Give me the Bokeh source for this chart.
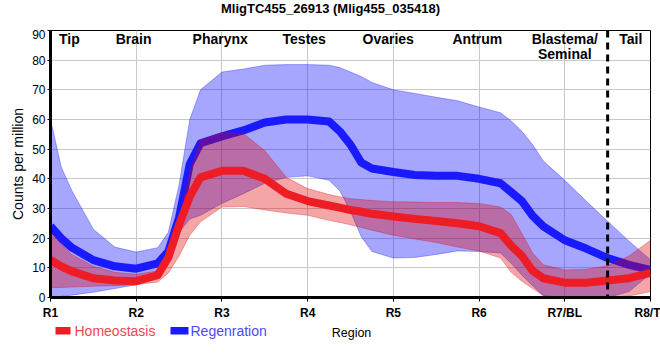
from bokeh.plotting import figure
from bokeh.layouts import column
from bokeh.models import Range1d, FixedTicker, Span
from bokeh.core.properties import value
from bokeh.embed import file_html
from bokeh.resources import INLINE

title_text = "MligTC455_26913 (Mlig455_035418)"

# position along the body (region units, R1 = 1 ... R8/T = 8)
pos = [1.0, 1.125, 1.25, 1.5, 1.75, 2.0, 2.25, 2.375, 2.5, 2.625, 2.75, 3.0, 3.25, 3.5, 3.75,
       4.0, 4.25, 4.375, 4.5, 4.625, 4.75, 5.0, 5.25, 5.5, 5.75, 6.0, 6.25, 6.375, 6.5, 6.625,
       6.75, 7.0, 7.25, 7.5, 7.75, 8.0]

homeo_mean = [12.7, 10.5, 8.8, 6.5, 5.7, 5.5, 7.5, 13.5, 24.5, 34.0, 40.5, 42.7, 42.7, 40.0, 35.0,
              32.5, 31.0, 30.3, 29.5, 28.9, 28.2, 27.3, 26.5, 25.8, 25.0, 24.0, 21.7, 17.5, 14.0, 9.0,
              6.5, 5.0, 5.0, 5.7, 6.5, 8.3]
homeo_upper = [22.0, 18.0, 14.5, 10.5, 8.5, 7.8, 9.0, 14.0, 26.0, 42.0, 53.0, 55.5, 55.3, 49.5, 40.5,
               36.7, 34.7, 34.0, 33.3, 33.0, 32.7, 32.3, 32.2, 32.0, 32.0, 31.7, 30.5, 28.0, 21.5, 15.0,
               11.0, 9.3, 9.5, 10.7, 14.0, 19.3]
homeo_lower = [3.3, 3.4, 3.5, 3.8, 4.0, 4.3, 5.2, 8.3, 14.0, 21.0, 25.5, 30.5, 30.7, 29.5, 28.5,
               27.7, 26.0, 25.3, 24.5, 23.6, 22.7, 21.0, 19.7, 18.5, 17.0, 15.7, 13.3, 8.5, 5.5, 3.0,
               0.7, 0.0, 0.0, 0.0, 0.5, 2.0]

regen_mean = [24.0, 20.0, 16.8, 12.6, 10.5, 9.7, 11.5, 15.5, 27.0, 45.0, 52.0, 54.3, 56.3, 59.0, 60.0,
              60.0, 59.3, 56.0, 51.5, 45.5, 43.5, 42.3, 41.3, 41.0, 41.0, 40.0, 38.5, 35.5, 32.5, 27.5,
              24.0, 19.3, 16.5, 13.3, 11.0, 9.3]
regen_upper = [60.0, 44.0, 36.0, 23.0, 17.0, 15.3, 16.8, 22.0, 38.0, 60.0, 70.0, 76.0, 77.0, 78.3, 78.5,
               78.5, 78.3, 77.5, 76.0, 74.5, 72.5, 70.0, 68.8, 67.5, 66.3, 64.2, 62.3, 59.5, 56.0, 51.5,
               46.0, 39.5, 32.5, 25.7, 19.0, 12.7]
regen_lower = [0.0, 0.4, 0.8, 1.8, 3.0, 4.3, 9.0, 13.0, 22.0, 26.5, 27.7, 31.7, 35.0, 38.5, 40.5,
               41.0, 39.5, 36.0, 29.0, 20.5, 15.5, 13.3, 13.5, 14.5, 15.7, 15.5, 15.0, 11.5, 7.5, 4.0,
               0.5, 0.0, 0.0, 0.0, 2.0, 8.0]

tick_pos = [1, 2, 3, 4, 5, 6, 7, 8]
tick_labels = ["R1", "R2", "R3", "R4", "R5", "R6", "R7/BL", "R8/T"]
y_ticks = [0, 10, 20, 30, 40, 50, 60, 70, 80, 90]

region_names = ["Tip", "Brain", "Pharynx", "Testes", "Ovaries", "Antrum", "Blastema/\nSeminal", "Tail"]
region_name_x = [1.22, 1.97, 2.98, 3.96, 4.94, 5.98, 7.0, 7.77]

series_names = ["Homeostasis", "Regenration"]
x_label = "Region"
y_label = "Counts per million"

RED = "#ee1c25"
BLUE = "#1a1aff"


def strip_fig(h):
    # a strip whose frame is aligned with the main frame (page pixels 50..650, y downwards)
    f = figure(width=660, height=h, x_range=Range1d(50, 650), y_range=Range1d(h, 0),
               output_backend="svg", toolbar_location=None, x_axis_type=None, y_axis_type=None,
               min_border_left=50, min_border_right=10, min_border_top=0, min_border_bottom=0)
    f.outline_line_color = None
    f.grid.visible = False
    return f


# title strip
tf = strip_fig(29)
tf.text(x=[330], y=[8], text=[title_text], text_color="black", text_align="center",
        text_baseline="middle", text_font=value("Liberation Sans"), text_font_style="bold",
        text_font_size="13px")

p = figure(width=660, height=293, x_range=Range1d(1, 8), y_range=Range1d(0, 90),
           output_backend="svg", toolbar_location=None,
           min_border_left=50, min_border_right=10, min_border_top=1, min_border_bottom=22)

p.outline_line_color = "black"
p.outline_line_width = 1
p.background_fill_color = "white"

# bands and means
p.varea(x=pos, y1=regen_lower, y2=regen_upper, fill_color="#0000ff", fill_alpha=0.35)
p.line(x=pos, y=regen_upper, line_color="#0000ff", line_alpha=0.3, line_width=1)
p.line(x=pos, y=regen_lower, line_color="#0000ff", line_alpha=0.3, line_width=1)
p.line(x=pos, y=regen_mean, line_color=BLUE, line_width=8, line_join="round")

p.varea(x=pos, y1=homeo_lower, y2=homeo_upper, fill_color="#e00000", fill_alpha=0.35)
p.line(x=pos, y=homeo_upper, line_color="#e00000", line_alpha=0.3, line_width=1)
p.line(x=pos, y=homeo_lower, line_color="#e00000", line_alpha=0.3, line_width=1)
p.line(x=pos, y=homeo_mean, line_color=RED, line_width=8, line_join="round")

p.add_layout(Span(location=7.5, dimension="height", line_color="black", line_width=3, line_dash="7 5"))

p.text(x=region_name_x, y=[89.4] * len(region_names), text=region_names, y_offset=-1,
       text_align="center", text_baseline="top", text_font=value("Liberation Sans"),
       text_font_style="bold", text_font_size="14px", text_line_height=0.9, text_color="black")

# axes
p.xaxis.ticker = FixedTicker(ticks=tick_pos)
p.xaxis.major_label_overrides = {t: l for t, l in zip(tick_pos, tick_labels)}
p.yaxis.ticker = FixedTicker(ticks=y_ticks)
p.xgrid.ticker = FixedTicker(ticks=tick_pos)
p.ygrid.ticker = FixedTicker(ticks=y_ticks)
p.grid.grid_line_color = "#c8c8c8"
p.grid.grid_line_width = 1

for ax in (p.xaxis, p.yaxis):
    ax.axis_line_color = "black"
    ax.axis_line_width = 3
    ax.major_tick_line_color = "black"
    ax.minor_tick_line_color = None
    ax.major_tick_in = 0
    ax.major_label_text_color = "black"

p.xaxis.major_tick_out = 4
p.xaxis.major_label_standoff = 4
p.xaxis.major_label_text_font = "Liberation Sans"
p.xaxis.major_label_text_font_style = "bold"
p.xaxis.major_label_text_font_size = "12px"

p.yaxis.major_tick_out = 3
p.yaxis.major_label_standoff = 2
p.yaxis.major_label_text_font = "Liberation Sans"
p.yaxis.major_label_text_font_size = "12px"
p.yaxis.axis_label = y_label
p.yaxis.axis_label_standoff = 3
p.yaxis.axis_label_text_font = "Liberation Sans"
p.yaxis.axis_label_text_font_style = "normal"
p.yaxis.axis_label_text_font_size = "14px"
p.yaxis.axis_label_text_color = "black"

# legend strip with the x-axis title
lg = strip_fig(38)
lg.rect(x=[62.5, 179], y=[8.2, 8.2], width=[15, 18], height=[7.5, 7.5],
        fill_color=[RED, BLUE], line_color=None)
lg.text(x=[74, 190], y=[8.5, 8.5], text=series_names, text_color=["#f04550", "#4a4aff"],
        text_align="left", text_baseline="middle", text_font=value("Liberation Sans"),
        text_font_size="14px")
lg.text(x=[351], y=[10], text=[x_label], text_color="black", text_align="center",
        text_baseline="middle", text_font=value("Liberation Sans"), text_font_size="12.5px")

layout = column(tf, p, lg, spacing=0)
open("out.html", "w").write(file_html(layout, INLINE))
